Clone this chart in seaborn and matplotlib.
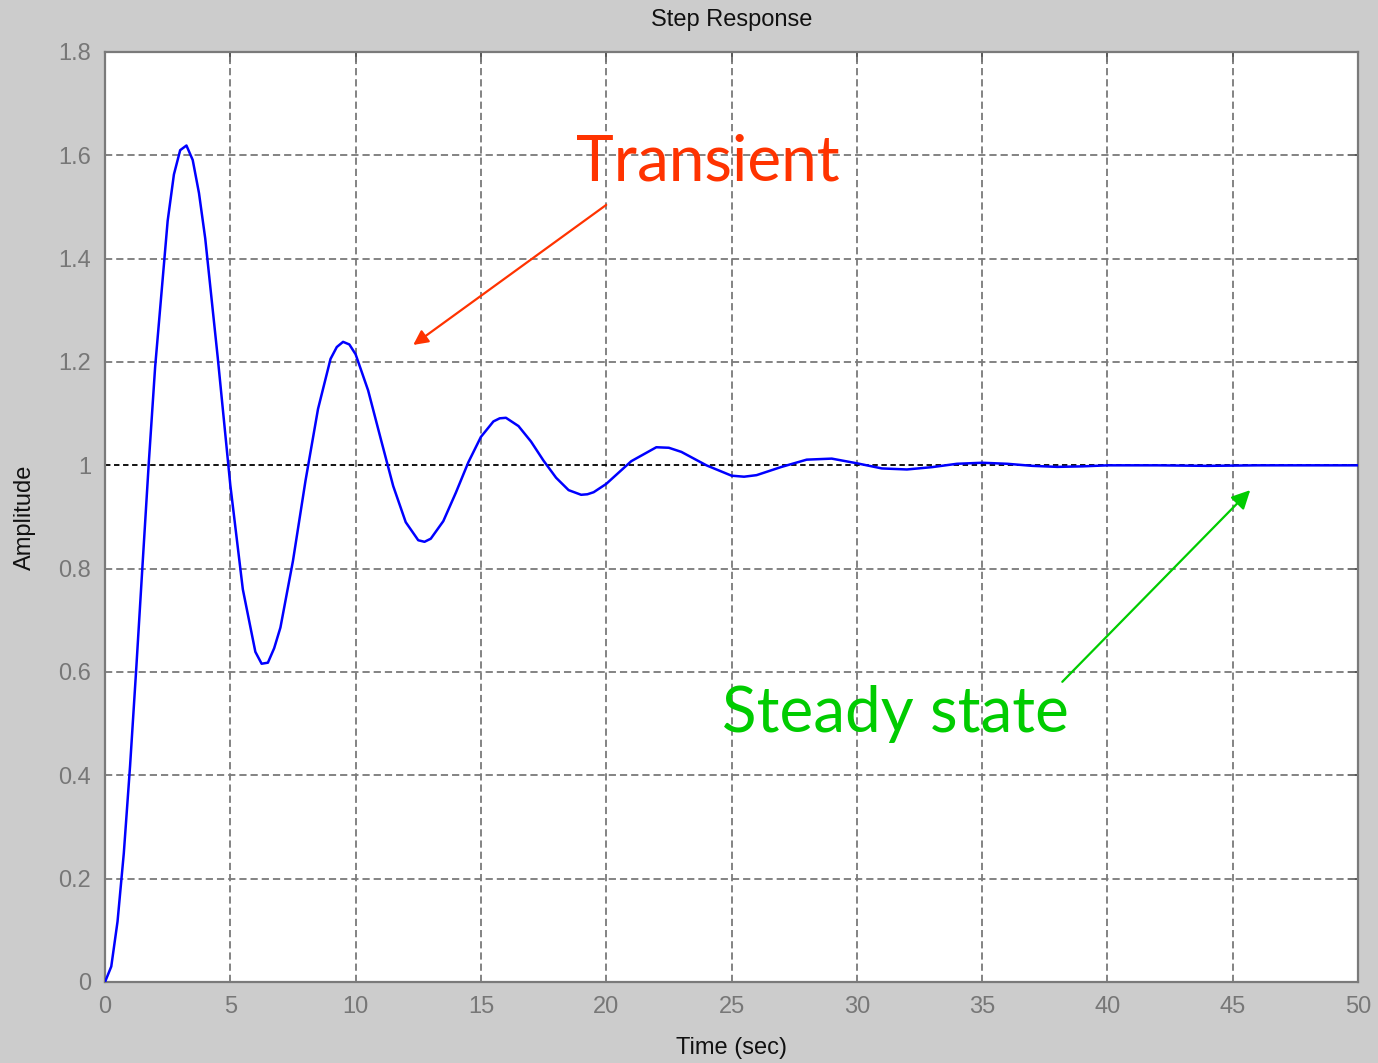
import matplotlib
matplotlib.use("Agg")
import matplotlib.pyplot as plt
import seaborn as sns
import pandas as pd

# ---- data ----
time_sec = [0, 0.25, 0.5, 0.75, 1, 1.25, 1.5, 1.75, 2, 2.5, 2.75, 3, 3.25, 3.5, 3.75,
            4, 4.5, 5, 5.5, 6, 6.25, 6.5, 6.75, 7, 7.5, 8, 8.5, 9, 9.25, 9.5, 9.75,
            10, 10.5, 11, 11.5, 12, 12.5, 12.75, 13, 13.5, 14, 14.5, 15, 15.5, 15.75,
            16, 16.5, 17, 17.5, 18, 18.5, 19, 19.25, 19.5, 20, 21, 22, 22.5, 23,
            24, 25, 25.5, 26, 27, 28, 29, 30, 31, 32, 33, 34, 35, 36, 37, 38,
            39, 40, 42, 44, 46, 48, 50]
amplitude = [0.0, 0.030, 0.117, 0.249, 0.418, 0.609, 0.809, 1.007, 1.190, 1.473,
             1.563, 1.610, 1.619, 1.591, 1.527, 1.439, 1.208, 0.962, 0.760, 0.639,
             0.616, 0.618, 0.646, 0.686, 0.815, 0.970, 1.109, 1.206, 1.229, 1.239,
             1.234, 1.215, 1.145, 1.052, 0.960, 0.890, 0.855, 0.852, 0.858, 0.892,
             0.947, 1.006, 1.055, 1.085, 1.091, 1.092, 1.076, 1.046, 1.009, 0.976,
             0.952, 0.943, 0.944, 0.948, 0.964, 1.008, 1.035, 1.034, 1.026, 1.000,
             0.980, 0.978, 0.981, 0.997, 1.011, 1.013, 1.004, 0.994, 0.992, 0.9965,
             1.003, 1.005, 1.003, 0.999, 0.997, 0.998, 1.000, 1.000, 0.999, 1.000,
             1.000, 1.000]
steady_value = 1.0
x_ticks = [0, 5, 10, 15, 20, 25, 30, 35, 40, 45, 50]
y_ticks = [0, 0.2, 0.4, 0.6, 0.8, 1.0, 1.2, 1.4, 1.6, 1.8]
y_tick_labels = ["0", "0.2", "0.4", "0.6", "0.8", "1", "1.2", "1.4", "1.6", "1.8"]
title_text = "Step Response"
x_label = "Time (sec)"
y_label = "Amplitude"
label_transient = "Transient"
label_steady = "Steady state"

df = pd.DataFrame({"t": time_sec, "y": amplitude})

sns.set_style("white")
plt.rcParams["font.family"] = ["Liberation Sans", "DejaVu Sans"]

W, H = 1378, 1063
fig = plt.figure(figsize=(W / 100, H / 100), dpi=100, facecolor="#cccccc")
ax = fig.add_axes([105 / W, 1 - 982 / H, (1358 - 105) / W, (982 - 52) / H])
ax.set_facecolor("white")

grid_kw = dict(color="#7a7a7a", lw=1.3, linestyle=(0, (4.0, 2.2)), zorder=1)
for xv in x_ticks[1:-1]:
    ax.axvline(xv, **grid_kw)
for yv in y_ticks[1:-1]:
    if yv != steady_value:
        ax.axhline(yv, **grid_kw)

ax.axhline(steady_value, color="black", lw=1.3, linestyle=(0, (3, 2)), zorder=2)

sns.lineplot(data=df, x="t", y="y", color="#0000ff", lw=1.8, ax=ax, zorder=3)

ax.set_xlim(0, 50)
ax.set_ylim(0, 1.8)
ax.set_xticks(x_ticks)
ax.set_xticklabels([str(v) for v in x_ticks])
ax.set_yticks(y_ticks)
ax.set_yticklabels(y_tick_labels)

for s in ax.spines.values():
    s.set_color("#7a7a7a")
    s.set_linewidth(1.6)
    s.set_visible(True)

ax.tick_params(axis="both", direction="in", length=7, width=1.4, color="#555555",
               labelsize=17, labelcolor="#777777", top=True, right=True, pad=10)

ax.set_title(title_text, fontsize=17, color="#111111", pad=19)
ax.set_xlabel(x_label, fontsize=17, color="#111111", labelpad=14)
ax.set_ylabel(y_label, fontsize=17, color="#111111", labelpad=16)

ax.annotate("", xy=(12.3, 1.233), xytext=(20.0, 1.504),
            arrowprops=dict(arrowstyle="-|>", color="#ff3300", lw=1.6,
                            mutation_scale=22, shrinkA=0, shrinkB=0), zorder=5)
ax.annotate("", xy=(45.7, 0.952), xytext=(38.2, 0.581),
            arrowprops=dict(arrowstyle="-|>", color="#00cc00", lw=1.6,
                            mutation_scale=28, shrinkA=0, shrinkB=0), zorder=5)

ax.text(24.07, 1.552, label_transient, color="#ff3300", fontsize=46,
        family=["Lato", "DejaVu Sans"], ha="center", va="baseline", zorder=6)
ax.text(31.53, 0.484, label_steady, color="#00cc00", fontsize=46,
        family=["Lato", "DejaVu Sans"], ha="center", va="baseline", zorder=6)

fig.savefig("out.png", dpi=100, facecolor=fig.get_facecolor())
